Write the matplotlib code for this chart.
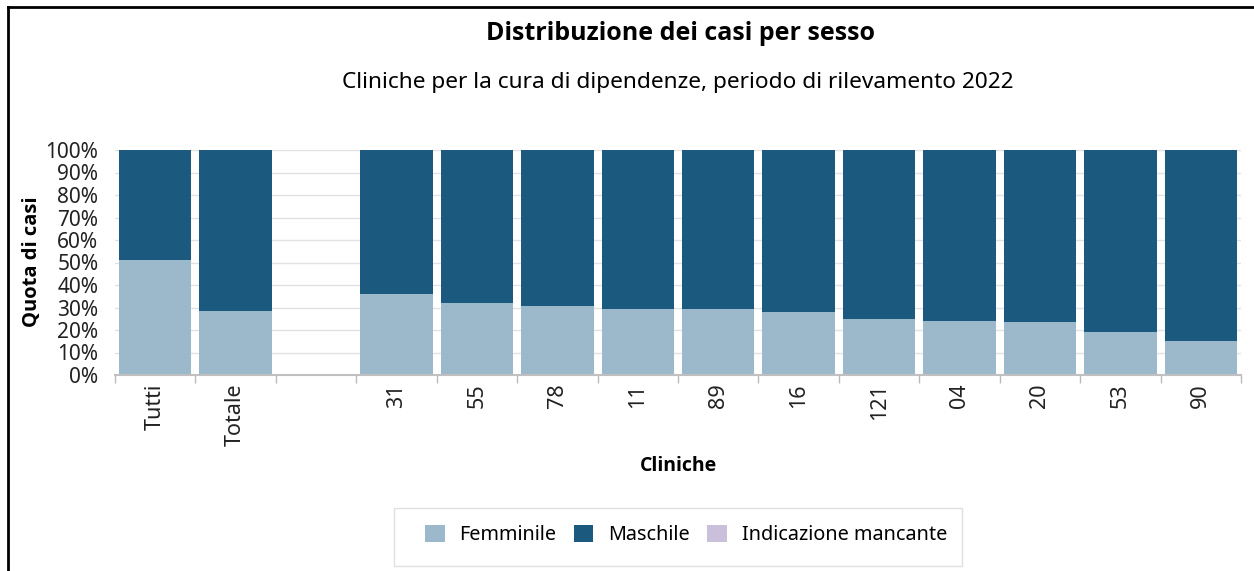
import numpy as np
import matplotlib.pyplot as plt
from matplotlib.patches import Rectangle

plt.rcParams['font.family'] = ['Noto Sans', 'DejaVu Sans']
BOLD = ['Open Sans', 'DejaVu Sans']

cliniche = ["Tutti", "Totale", "", "31", "55", "78", "11", "89", "16", "121", "04", "20", "53", "90"]
femminile = [51.1, 28.3, 0, 35.9, 31.9, 30.7, 29.5, 29.2, 27.9, 25.0, 24.0, 23.7, 19.3, 15.0]
mancante = [0, 0, 0, 0, 0, 0, 0, 0, 0, 0, 0, 0, 0, 0]
vuoto = [False, False, True] + [False] * 11

femminile = np.array(femminile)
mancante = np.array(mancante)
maschile = np.where(vuoto, 0, 100 - femminile - mancante)

c_f = "#9bb9ca"
c_m = "#1b5a7e"
c_n = "#cbc0dc"

W, H = 1254, 571
fig = plt.figure(figsize=(12.54, 5.71), dpi=100)
ax = fig.add_axes([115 / W, 1 - 375 / H, (1241 - 115) / W, 225 / H])

x = np.arange(len(cliniche))
w = 0.9
ax.bar(x, femminile, w, color=c_f, label="Femminile", zorder=2)
ax.bar(x, maschile, w, bottom=femminile, color=c_m, label="Maschile", zorder=2)
ax.bar(x, mancante, w, bottom=femminile + maschile, color=c_n, label="Indicazione mancante", zorder=2)

ax.set_xlim(-0.5, len(cliniche) - 0.5)
ax.set_ylim(0, 100)
ax.set_yticks(np.arange(0, 101, 10))
ax.set_yticklabels([f"{v}%" for v in range(0, 101, 10)], fontsize=15, color="#222222")
ax.yaxis.grid(True, color="#e2e2e2", linewidth=1, zorder=0)
ax.tick_params(axis="y", length=0, pad=12)

ax.set_xticks(x)
ax.set_xticklabels(cliniche, rotation=90, fontsize=15.5, color="#222222", va="top")
ax.set_xticks(np.arange(-0.5, len(cliniche)), minor=True)
ax.tick_params(axis="x", which="major", length=0, pad=6)
ax.tick_params(axis="x", which="minor", length=6, color="#bbbbbb", width=1)

for s in ["top", "right", "left"]:
    ax.spines[s].set_visible(False)
ax.spines["bottom"].set_color("#c0c0c0")
ax.spines["bottom"].set_linewidth(1.5)

fig.text(32 / W, 1 - 262 / H, "Quota di casi", rotation=90, ha="center", va="center",
         fontsize=14.5, fontweight="bold", family=BOLD)
fig.text(678 / W, 1 - 466 / H, "Cliniche", ha="center", va="center",
         fontsize=14, fontweight="bold", family=BOLD)

fig.text(680 / W, 1 - 33 / H, "Distribuzione dei casi per sesso", ha="center", va="center",
         fontsize=18, fontweight="bold", family=BOLD)
fig.text(678 / W, 1 - 83 / H, "Cliniche per la cura di dipendenze, periodo di rilevamento 2022",
         ha="center", va="center", fontsize=16.3)

# riquadro legenda
fig.add_artist(Rectangle((394 / W, 1 - 566 / H), (962 - 394) / W, (566 - 508) / H,
                         transform=fig.transFigure, facecolor="white", edgecolor="#e0e0e0",
                         linewidth=1))
leg = fig.legend(loc="center", bbox_to_anchor=(686 / W, 1 - 535 / H), ncol=3, frameon=False,
                 fontsize=14.3, handlelength=1.0, handleheight=1.0, handletextpad=0.75,
                 columnspacing=0.85, borderpad=0.2)

# cornice esterna
fig.add_artist(plt.Line2D([8 / W, 8 / W], [0, 1 - 7 / H], transform=fig.transFigure,
                          color="black", linewidth=2))
fig.add_artist(plt.Line2D([8 / W, 1], [1 - 7 / H, 1 - 7 / H], transform=fig.transFigure,
                          color="black", linewidth=2))

fig.savefig("out.png", dpi=100)
